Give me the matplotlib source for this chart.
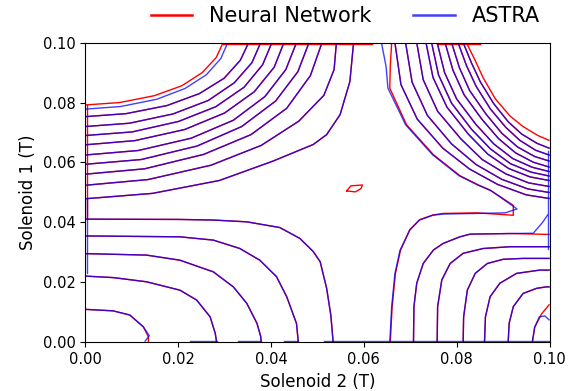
import matplotlib.pyplot as plt

# Contour lines, as (solenoid 2, solenoid 1) in tesla.
# Lines where the network and ASTRA agree are kept once and drawn in both colours.

shared_top_left = [
    [(0.0, 0.0479), (0.0145, 0.0497), (0.0289, 0.0540), (0.0405, 0.0605), (0.0491, 0.0660), (0.0520, 0.0693), (0.0549, 0.0760), (0.0570, 0.0870), (0.0578, 0.1)],
    [(0.0, 0.0524), (0.0135, 0.0543), (0.0271, 0.0591), (0.0379, 0.0657), (0.0460, 0.0738), (0.0514, 0.0824), (0.0536, 0.0910), (0.0541, 0.1)],
    [(0.0, 0.0561), (0.0128, 0.0579), (0.0255, 0.0627), (0.0357, 0.0693), (0.0434, 0.0781), (0.0485, 0.0890), (0.0510, 0.1)],
    [(0.0, 0.0594), (0.0121, 0.0610), (0.0241, 0.0655), (0.0337, 0.0720), (0.0410, 0.0805), (0.0458, 0.0903), (0.0482, 0.1)],
    [(0.0, 0.0625), (0.0114, 0.0640), (0.0228, 0.0681), (0.0319, 0.0741), (0.0387, 0.0820), (0.0432, 0.0910), (0.0455, 0.1)],
    [(0.0, 0.0659), (0.0107, 0.0673), (0.0214, 0.0710), (0.0300, 0.0765), (0.0364, 0.0836), (0.0407, 0.0918), (0.0428, 0.1)],
    [(0.0, 0.0690), (0.0101, 0.0702), (0.0201, 0.0737), (0.0281, 0.0786), (0.0342, 0.0851), (0.0382, 0.0926), (0.0402, 0.1)],
    [(0.0, 0.0720), (0.0095, 0.0731), (0.0189, 0.0762), (0.0265, 0.0807), (0.0321, 0.0866), (0.0359, 0.0933), (0.0378, 0.1)],
    [(0.0, 0.0753), (0.0088, 0.0763), (0.0176, 0.0790), (0.0246, 0.0830), (0.0299, 0.0881), (0.0334, 0.0941), (0.0352, 0.1)],
]

shared_top_right = [
    [(0.0667, 0.1), (0.0680, 0.0860), (0.0715, 0.0745), (0.0770, 0.0648), (0.0828, 0.0578), (0.0888, 0.0527), (0.0950, 0.0492), (0.0999, 0.0480)],
    [(0.0690, 0.1), (0.0704, 0.0868), (0.0737, 0.0757), (0.0789, 0.0662), (0.0842, 0.0593), (0.0897, 0.0544), (0.0953, 0.0512), (0.0999, 0.0500)],
    [(0.0714, 0.1), (0.0728, 0.0876), (0.0759, 0.0771), (0.0809, 0.0679), (0.0855, 0.0610), (0.0906, 0.0562), (0.0955, 0.0532), (0.0999, 0.0520)],
    [(0.0734, 0.1), (0.0749, 0.0884), (0.0779, 0.0785), (0.0825, 0.0695), (0.0867, 0.0628), (0.0912, 0.0580), (0.0958, 0.0552), (0.0999, 0.0540)],
    [(0.0746, 0.1), (0.0761, 0.0892), (0.0789, 0.0798), (0.0832, 0.0711), (0.0873, 0.0645), (0.0916, 0.0596), (0.0960, 0.0568), (0.0999, 0.0555)],
    [(0.0758, 0.1), (0.0774, 0.0900), (0.0800, 0.0812), (0.0841, 0.0728), (0.0880, 0.0662), (0.0921, 0.0613), (0.0963, 0.0584), (0.0999, 0.0570)],
    [(0.0775, 0.1), (0.0792, 0.0908), (0.0816, 0.0826), (0.0854, 0.0745), (0.0890, 0.0680), (0.0927, 0.0632), (0.0965, 0.0601), (0.0999, 0.0585)],
    [(0.0789, 0.1), (0.0806, 0.0916), (0.0828, 0.0840), (0.0863, 0.0762), (0.0897, 0.0698), (0.0931, 0.0652), (0.0968, 0.0620), (0.0999, 0.0605)],
    [(0.0803, 0.1), (0.0821, 0.0924), (0.0842, 0.0854), (0.0873, 0.0778), (0.0906, 0.0717), (0.0936, 0.0674), (0.0970, 0.0641), (0.0999, 0.0625)],
    [(0.0814, 0.1), (0.0832, 0.0932), (0.0851, 0.0869), (0.0880, 0.0796), (0.0911, 0.0736), (0.0940, 0.0695), (0.0973, 0.0664), (0.0999, 0.0648)],
]

shared_bottom_left = [
    [(0.0, 0.0411), (0.0204, 0.0410), (0.0276, 0.0408), (0.0348, 0.0402), (0.0419, 0.0383), (0.0462, 0.0347), (0.0491, 0.0303), (0.0506, 0.0269), (0.0520, 0.0180), (0.0529, 0.0090), (0.0534, 0.0)],
    [(0.0, 0.0355), (0.0204, 0.0352), (0.0276, 0.0341), (0.0333, 0.0313), (0.0376, 0.0274), (0.0412, 0.0219), (0.0434, 0.0152), (0.0455, 0.0063), (0.0459, 0.0)],
    [(0.0, 0.0296), (0.0132, 0.0291), (0.0204, 0.0274), (0.0276, 0.0235), (0.0319, 0.0185), (0.0348, 0.0130), (0.0370, 0.0063), (0.0378, 0.0019), (0.0379, 0.0)],
    [(0.0, 0.0221), (0.0060, 0.0216), (0.0132, 0.0202), (0.0204, 0.0174), (0.0240, 0.0141), (0.0269, 0.0085), (0.0280, 0.0030), (0.0283, 0.0)],
]

shared_bottom_right = [
    [(0.0758, 0.0), (0.0759, 0.0119), (0.0768, 0.0208), (0.0786, 0.0263), (0.0814, 0.0297), (0.0857, 0.0313), (0.0915, 0.0319), (0.0999, 0.0319)],
    [(0.0814, 0.0), (0.0815, 0.0085), (0.0823, 0.0174), (0.0840, 0.0230), (0.0866, 0.0263), (0.0900, 0.0277), (0.0943, 0.0280), (0.0999, 0.0280)],
    [(0.0860, 0.0), (0.0862, 0.0085), (0.0872, 0.0152), (0.0893, 0.0197), (0.0929, 0.0230), (0.0979, 0.0241), (0.0999, 0.0241)],
    [(0.0911, 0.0), (0.0913, 0.0063), (0.0922, 0.0119), (0.0943, 0.0163), (0.0972, 0.0180), (0.0993, 0.0185), (0.0999, 0.0185)],
]

# lines that only one of the two shows, or where they part
nn_only = [
    [(0.0, 0.0792), (0.0074, 0.0800), (0.0149, 0.0823), (0.0208, 0.0856), (0.0252, 0.0900), (0.0282, 0.0950), (0.0297, 0.1)],
    [(0.0, 0.0110), (0.0060, 0.0105), (0.0096, 0.0091), (0.0125, 0.0052), (0.0136, 0.0019), (0.0136, 0.0)],
    [(0.0660, 0.1), (0.0657, 0.0920), (0.0656, 0.0848), (0.0692, 0.0726), (0.0750, 0.0626), (0.0807, 0.0556), (0.0847, 0.0525), (0.0872, 0.0508), (0.0922, 0.0457), (0.0922, 0.0424), (0.0843, 0.0432), (0.0771, 0.0430), (0.0749, 0.0425), (0.0720, 0.0409), (0.0699, 0.0376), (0.0679, 0.0307), (0.0668, 0.0229), (0.0661, 0.0118), (0.0657, 0.0)],
    [(0.0821, 0.1), (0.0840, 0.0940), (0.0857, 0.0883), (0.0883, 0.0813), (0.0915, 0.0755), (0.0943, 0.0720), (0.0975, 0.0690), (0.0999, 0.0674)],
    [(0.0707, 0.0), (0.0708, 0.0119), (0.0714, 0.0197), (0.0728, 0.0263), (0.0750, 0.0308), (0.0771, 0.0330), (0.0807, 0.0352), (0.0829, 0.0361), (0.0915, 0.0363), (0.0999, 0.0360)],
    [(0.0963, 0.0), (0.0968, 0.0050), (0.0983, 0.0095), (0.0999, 0.0125)],
    [(0.0563, 0.0505), (0.0572, 0.0522), (0.0597, 0.0525), (0.0594, 0.0513), (0.0582, 0.0502), (0.0563, 0.0505)],
    [(0.0004, 0.0411), (0.0004, 0.0792)],
    [(0.0297, 0.0996), (0.0617, 0.0996)],
    [(0.0758, 0.0996), (0.0850, 0.0996)],
]

astra_only = [
    [(0.0, 0.0778), (0.0077, 0.0787), (0.0154, 0.0811), (0.0215, 0.0847), (0.0261, 0.0893), (0.0292, 0.0947), (0.0307, 0.1)],
    [(0.0, 0.0110), (0.0060, 0.0105), (0.0096, 0.0091), (0.0125, 0.0052), (0.0138, 0.0022), (0.0129, 0.0004)],
    [(0.0638, 0.1), (0.0648, 0.0920), (0.0652, 0.0848), (0.0690, 0.0726), (0.0748, 0.0626), (0.0805, 0.0556), (0.0845, 0.0525), (0.0875, 0.0505), (0.0930, 0.0445), (0.0905, 0.0432), (0.0843, 0.0430), (0.0771, 0.0428), (0.0749, 0.0424), (0.0720, 0.0408), (0.0699, 0.0374), (0.0678, 0.0307), (0.0667, 0.0229), (0.0660, 0.0118), (0.0656, 0.0)],
    [(0.0707, 0.0), (0.0708, 0.0119), (0.0714, 0.0197), (0.0728, 0.0263), (0.0750, 0.0308), (0.0771, 0.0330), (0.0807, 0.0352), (0.0829, 0.0361), (0.0915, 0.0363), (0.0965, 0.0364), (0.0985, 0.0400), (0.0996, 0.0425)],
    [(0.0963, 0.0), (0.0968, 0.0050), (0.0978, 0.0085), (0.0990, 0.0088), (0.0999, 0.0075)],
    [(0.0997, 0.0310), (0.0997, 0.0640)],
    [(0.0004, 0.0230), (0.0004, 0.0480)],
    [(0.0226, 0.0006), (0.0283, 0.0006)],
    [(0.0329, 0.0006), (0.0378, 0.0006)],
    [(0.0429, 0.0006), (0.0459, 0.0006)],
    [(0.0515, 0.0006), (0.0999, 0.0006)],
]

shared = shared_top_left + shared_top_right + shared_bottom_left + shared_bottom_right

fig = plt.figure(figsize=(5.76, 3.91), dpi=100)
ax = fig.add_axes([0.148, 0.1245, 0.806, 0.7665])


def draw(lines, color, alpha, label):
    for i, line in enumerate(lines):
        xs = [p[0] for p in line]
        ys = [p[1] for p in line]
        ax.plot(xs, ys, color=color, alpha=alpha, lw=1.0, label=label if i == 0 else None)


draw(shared + nn_only, "red", 1.0, "Neural Network")
draw(shared + astra_only, "blue", 0.75, "ASTRA")

ax.set_xlim(0, 0.1)
ax.set_ylim(0, 0.1)
ax.set_xticks([0, 0.02, 0.04, 0.06, 0.08, 0.1])
ax.set_yticks([0, 0.02, 0.04, 0.06, 0.08, 0.1])
ax.xaxis.set_major_formatter(plt.FormatStrFormatter("%.2f"))
ax.yaxis.set_major_formatter(plt.FormatStrFormatter("%.2f"))
ax.tick_params(labelsize=10.5)
ax.set_xlabel("Solenoid 2 (T)", fontsize=12)
ax.set_ylabel("Solenoid 1 (T)", fontsize=12)

leg = ax.legend(loc="lower right", bbox_to_anchor=(1.019, 0.992), ncol=2, frameon=False, fontsize=15)
for h in leg.get_lines():
    h.set_linewidth(1.8)

plt.savefig("out.png", dpi=100)
